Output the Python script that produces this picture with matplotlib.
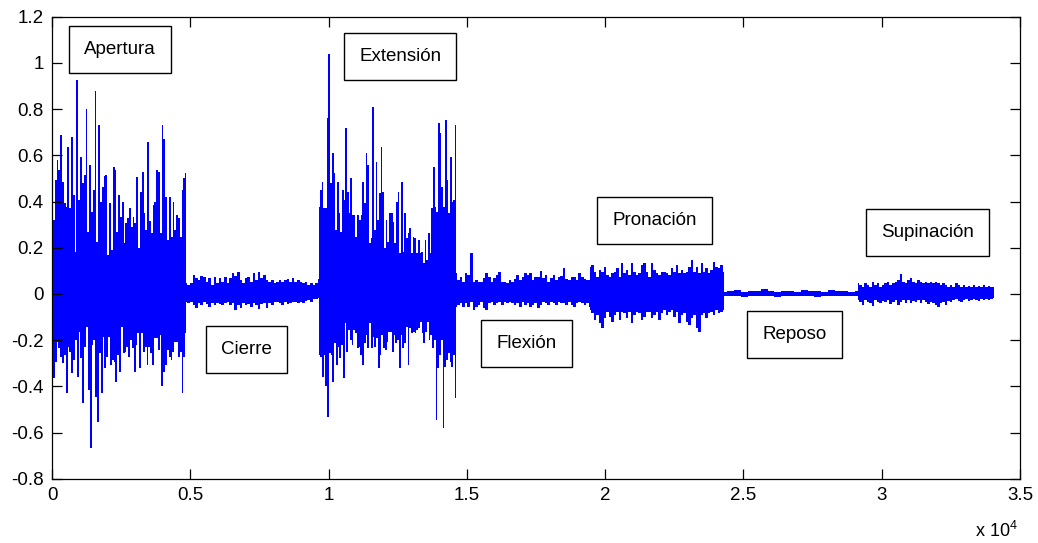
import matplotlib
matplotlib.use("Agg")
import matplotlib.pyplot as plt
from matplotlib import ticker
import numpy as np

plt.rcParams['font.family'] = ['Liberation Sans', 'DejaVu Sans']
plt.rcParams['axes.unicode_minus'] = False
plt.rcParams['mathtext.fontset'] = 'custom'
plt.rcParams['mathtext.rm'] = 'Liberation Sans'

# segment limits (sample index)
seg_edges = [0, 4850, 9660, 14600, 19450, 24300, 29140, 34060]

# envelope of the EMG signal per segment: maxima (hi) and minima (lo)
apertura_hi = [0.745, 0.32, 0.493, 0.58, 0.536, 0.688, 0.486, 0.392, 0.378, 0.637,
               0.37, 0.68, 0.428, 0.183, 0.926, 0.406, 0.594, 0.479, 0.515, 0.80,
               0.27, 0.558, 0.356, 0.45, 0.878, 0.226, 0.731, 0.40, 0.464, 0.51,
               0.515, 0.168, 0.392, 0.19, 0.548, 0.536, 0.27, 0.428, 0.334, 0.40,
               0.219, 0.306, 0.327, 0.373, 0.291, 0.334, 0.306, 0.507, 0.197, 0.442,
               0.526, 0.349, 0.277, 0.659, 0.317, 0.262, 0.385, 0.40, 0.536, 0.529,
               0.262, 0.731, 0.67, 0.421, 0.233, 0.421, 0.248, 0.40, 0.277, 0.342,
               0.327, 0.248, 0.45, 0.50, 0.522]
apertura_lo = [-0.30, -0.365, -0.293, -0.207, -0.236, -0.272, -0.30, -0.265, -0.43, -0.228,
               -0.25, -0.344, -0.286, -0.20, -0.358, -0.164, -0.279, -0.474, -0.228, -0.142,
               -0.416, -0.668, -0.221, -0.20, -0.445, -0.553, -0.257, -0.43, -0.185, -0.322,
               -0.272, -0.185, -0.308, -0.286, -0.293, -0.38, -0.265, -0.337, -0.142, -0.257,
               -0.25, -0.228, -0.272, -0.20, -0.236, -0.337, -0.221, -0.171, -0.322, -0.171,
               -0.25, -0.228, -0.308, -0.228, -0.257, -0.308, -0.192, -0.192, -0.243, -0.178,
               -0.40, -0.337, -0.308, -0.243, -0.272, -0.286, -0.25, -0.207, -0.207, -0.272,
               -0.25, -0.43, -0.272, -0.171]

cierre_hi = [0.046, 0.039, 0.046, 0.082, 0.067, 0.06, 0.079, 0.075, 0.053, 0.067,
             0.039, 0.075, 0.046, 0.067, 0.053, 0.075, 0.046, 0.067, 0.089, 0.079,
             0.096, 0.06, 0.046, 0.067, 0.075, 0.053, 0.089, 0.06, 0.096, 0.067,
             0.082, 0.06, 0.05, 0.06, 0.046, 0.053, 0.06, 0.053, 0.06, 0.065,
             0.053, 0.067, 0.053, 0.06, 0.053, 0.046, 0.053, 0.039, 0.046, 0.039,
             0.046, 0.065]
cierre_lo = [-0.034, -0.041, -0.034, -0.048, -0.062, -0.041, -0.048, -0.037, -0.045, -0.055,
             -0.041, -0.048, -0.041, -0.045, -0.048, -0.041, -0.034, -0.048, -0.041, -0.07,
             -0.048, -0.062, -0.041, -0.048, -0.045, -0.055, -0.041, -0.048, -0.066, -0.045,
             -0.041, -0.062, -0.041, -0.048, -0.037, -0.034, -0.041, -0.048, -0.034, -0.045,
             -0.041, -0.034, -0.037, -0.041, -0.034, -0.041, -0.031, -0.028, -0.034, -0.024,
             -0.022, -0.019]

extension_hi = [0.378, 0.45, 0.486, 0.37, 0.37, 0.76, 1.04, 0.479, 0.609, 0.522,
                0.277, 0.486, 0.349, 0.269, 0.45, 0.406, 0.717, 0.443, 0.349, 0.50,
                0.342, 0.342, 0.248, 0.342, 0.32, 0.342, 0.486, 0.392, 0.609, 0.558,
                0.219, 0.241, 0.81, 0.277, 0.572, 0.32, 0.435, 0.637, 0.443, 0.197,
                0.32, 0.226, 0.349, 0.352, 0.313, 0.219, 0.40, 0.443, 0.176, 0.486,
                0.183, 0.349, 0.241, 0.262, 0.284, 0.176, 0.248, 0.241, 0.176, 0.233,
                0.176, 0.183, 0.132, 0.233, 0.147, 0.262, 0.176, 0.37, 0.551, 0.378,
                0.356, 0.738, 0.695, 0.464, 0.378, 0.753, 0.493, 0.349, 0.594, 0.40,
                0.406, 0.731]
extension_lo = [-0.265, -0.272, -0.358, -0.265, -0.40, -0.532, -0.257, -0.265, -0.38, -0.214,
                -0.308, -0.228, -0.279, -0.221, -0.365, -0.127, -0.25, -0.156, -0.20, -0.221,
                -0.156, -0.171, -0.236, -0.228, -0.265, -0.308, -0.214, -0.178, -0.236, -0.127,
                -0.236, -0.185, -0.228, -0.192, -0.322, -0.265, -0.178, -0.236, -0.243, -0.207,
                -0.164, -0.164, -0.25, -0.178, -0.214, -0.20, -0.322, -0.178, -0.236, -0.214,
                -0.142, -0.308, -0.149, -0.171, -0.164, -0.171, -0.156, -0.149, -0.12, -0.171,
                -0.214, -0.164, -0.12, -0.20, -0.178, -0.236, -0.20, -0.546, -0.322, -0.265,
                -0.20, -0.582, -0.315, -0.286, -0.257, -0.293, -0.315, -0.265, -0.452]

flexion_hi = [0.089, 0.06, 0.075, 0.053, 0.089, 0.082, 0.176, 0.053, 0.06, 0.053,
              0.053, 0.067, 0.089, 0.075, 0.053, 0.067, 0.082, 0.096, 0.053, 0.053,
              0.046, 0.06, 0.053, 0.063, 0.082, 0.06, 0.075, 0.089, 0.082, 0.092,
              0.06, 0.075, 0.075, 0.10, 0.067, 0.082, 0.053, 0.067, 0.082, 0.06,
              0.075, 0.077, 0.111, 0.063, 0.06, 0.075, 0.072, 0.06, 0.089, 0.075,
              0.063, 0.06, 0.06]
flexion_lo = [-0.055, -0.048, -0.041, -0.055, -0.041, -0.055, -0.034, -0.07, -0.055, -0.048,
              -0.034, -0.062, -0.07, -0.041, -0.034, -0.048, -0.041, -0.034, -0.048, -0.034,
              -0.041, -0.034, -0.041, -0.048, -0.041, -0.055, -0.034, -0.048, -0.041, -0.055,
              -0.048, -0.041, -0.062, -0.048, -0.034, -0.041, -0.048, -0.034, -0.041, -0.048,
              -0.034, -0.041, -0.041, -0.048, -0.034, -0.048, -0.055, -0.041, -0.034, -0.041,
              -0.048, -0.041, -0.055]

pronacion_hi = [0.118, 0.125, 0.096, 0.075, 0.103, 0.096, 0.118, 0.082, 0.075, 0.089,
                0.096, 0.111, 0.075, 0.132, 0.089, 0.103, 0.082, 0.132, 0.096, 0.082,
                0.089, 0.125, 0.132, 0.096, 0.075, 0.132, 0.103, 0.089, 0.082, 0.096,
                0.096, 0.089, 0.082, 0.111, 0.096, 0.125, 0.089, 0.103, 0.089, 0.096,
                0.118, 0.147, 0.096, 0.118, 0.089, 0.132, 0.096, 0.111, 0.089, 0.103,
                0.139, 0.118, 0.111, 0.125, 0.096]
pronacion_lo = [-0.07, -0.084, -0.113, -0.091, -0.127, -0.149, -0.106, -0.077, -0.099, -0.12,
                -0.091, -0.077, -0.113, -0.077, -0.084, -0.106, -0.077, -0.127, -0.091, -0.077,
                -0.084, -0.113, -0.099, -0.077, -0.077, -0.106, -0.091, -0.077, -0.113, -0.084,
                -0.07, -0.091, -0.077, -0.07, -0.099, -0.077, -0.127, -0.091, -0.084, -0.12,
                -0.134, -0.106, -0.091, -0.149, -0.164, -0.091, -0.084, -0.106, -0.084, -0.077,
                -0.091, -0.07, -0.084, -0.077, -0.07]

reposo_hi = [0.010, 0.012, 0.018, 0.010, 0.011, 0.012, 0.022, 0.011, 0.010, 0.012,
             0.011, 0.010, 0.018, 0.011, 0.012, 0.010, 0.016, 0.011, 0.012, 0.010, 0.012]
reposo_lo = [-0.008, -0.009, -0.007, -0.012, -0.008, -0.007, -0.009, -0.008, -0.014, -0.008,
             -0.007, -0.009, -0.008, -0.007, -0.013, -0.008, -0.009, -0.007, -0.008, -0.009, -0.008]

supinacion_hi = [0.046, 0.039, 0.031, 0.046, 0.039, 0.031, 0.053, 0.039, 0.046, 0.031,
                 0.039, 0.046, 0.053, 0.039, 0.046, 0.053, 0.06, 0.086, 0.053, 0.046,
                 0.06, 0.068, 0.053, 0.046, 0.06, 0.053, 0.046, 0.053, 0.046, 0.053,
                 0.046, 0.053, 0.046, 0.039, 0.046, 0.039, 0.031, 0.039, 0.031, 0.046,
                 0.039, 0.031, 0.039, 0.031, 0.034, 0.028, 0.039, 0.031, 0.034, 0.028,
                 0.039, 0.031, 0.034, 0.028, 0.031]
supinacion_lo = [-0.026, -0.034, -0.048, -0.026, -0.034, -0.041, -0.052, -0.026, -0.034, -0.041,
                 -0.029, -0.034, -0.026, -0.044, -0.034, -0.026, -0.048, -0.034, -0.026, -0.038,
                 -0.026, -0.041, -0.029, -0.034, -0.026, -0.041, -0.026, -0.034, -0.044, -0.034,
                 -0.041, -0.048, -0.055, -0.041, -0.034, -0.048, -0.029, -0.034, -0.026, -0.023,
                 -0.029, -0.034, -0.026, -0.023, -0.029, -0.026, -0.023, -0.026, -0.029, -0.023,
                 -0.026, -0.023, -0.026, -0.021, -0.019]

segments = [(apertura_hi, apertura_lo), (cierre_hi, cierre_lo), (extension_hi, extension_lo),
            (flexion_hi, flexion_lo), (pronacion_hi, pronacion_lo), (reposo_hi, reposo_lo),
            (supinacion_hi, supinacion_lo)]

labels = ["Apertura", "Cierre", "Extensión", "Flexión", "Pronación", "Reposo", "Supinación"]
label_x = [2458, 7038, 12592, 17160, 21787, 26848, 31667]
label_y = [1.056, -0.2385, 1.028, -0.215, 0.319, -0.1745, 0.2645]


def fmt(v, p, scale=1.0):
    v = round(v / scale, 2)
    if v == 0:
        return "0"
    return "%g" % v


fig = plt.figure(figsize=(10.38, 5.43), dpi=100)
ax = fig.add_axes([0.0501, 0.1184, 0.9326, 0.8508])

blue = "#0000FF"
for i in range(len(segments)):
    hi, lo = segments[i]
    start, end = seg_edges[i], seg_edges[i + 1]
    x_hi = np.linspace(start, end, len(hi))
    x_lo = np.linspace(start, end, len(lo))
    ax.fill_between(x_hi, 0, hi, step="mid", color=blue, linewidth=0)
    ax.fill_between(x_lo, lo, 0, step="mid", color=blue, linewidth=0)
    # solid core of the band
    ax.fill_between([start, end], max(lo), min(hi), color=blue, linewidth=0)

for i in range(len(labels)):
    ax.text(label_x[i], label_y[i], labels[i], fontsize=13.5, ha="center", va="center",
            bbox=dict(boxstyle="square,pad=0.8", facecolor="white", edgecolor="black", linewidth=1.0),
            zorder=5)

ax.set_xlim(0, 35000)
ax.set_ylim(-0.8, 1.2)
ax.set_xticks(np.arange(0, 35001, 5000))
ax.set_yticks(np.arange(-0.8, 1.21, 0.2))
ax.xaxis.set_major_formatter(ticker.FuncFormatter(lambda v, p: fmt(v, p, 1e4)))
ax.yaxis.set_major_formatter(ticker.FuncFormatter(fmt))
ax.tick_params(direction="in", length=7, width=0.9, top=True, right=True, labelsize=13.5, pad=6)
for s in ax.spines.values():
    s.set_linewidth(0.9)

ax.text(0.998, -0.135, r"x 10$^{4}$", transform=ax.transAxes, ha="right", va="bottom", fontsize=13)

plt.savefig("out.png", dpi=100)
